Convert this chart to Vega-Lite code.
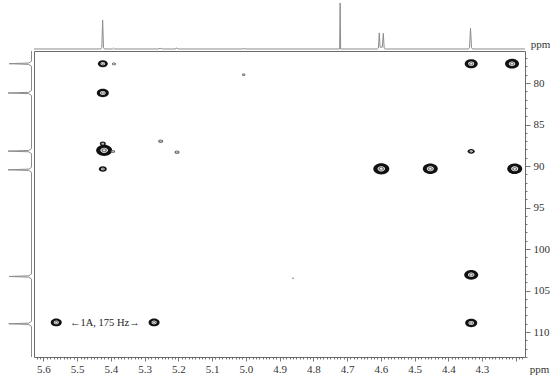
{
  "$schema": "https://vega.github.io/schema/vega-lite/v6.json",
  "width": 491,
  "height": 306,
  "autosize": {"type": "pad"},
  "padding": {"left": 5, "top": 0, "right": 5, "bottom": 5},
  "config": {
    "font": "Liberation Serif",
    "view": {"stroke": "#6a6a6a", "strokeWidth": 1}
  },
  "datasets": {
    "peaks": [
      {"h": 5.424, "c": 77.67, "intensity": 10},
      {"h": 5.391, "c": 77.70, "intensity": 4},
      {"h": 5.424, "c": 81.2, "intensity": 12},
      {"h": 5.424, "c": 87.3, "intensity": 6},
      {"h": 5.420, "c": 88.11, "intensity": 16},
      {"h": 5.394, "c": 88.25, "intensity": 4.5},
      {"h": 5.424, "c": 90.36, "intensity": 8},
      {"h": 5.2525, "c": 87.02, "intensity": 5},
      {"h": 5.204, "c": 88.35, "intensity": 5},
      {"h": 5.0065, "c": 79.0, "intensity": 3.5},
      {"h": 4.860, "c": 103.5, "intensity": 2},
      {"h": 4.5985, "c": 90.33, "intensity": 16},
      {"h": 4.4532, "c": 90.33, "intensity": 15},
      {"h": 4.203, "c": 90.33, "intensity": 15},
      {"h": 4.332, "c": 88.23, "intensity": 7},
      {"h": 4.332, "c": 77.67, "intensity": 13},
      {"h": 4.211, "c": 77.67, "intensity": 14},
      {"h": 4.332, "c": 103.1, "intensity": 14},
      {"h": 4.332, "c": 108.9, "intensity": 12},
      {"h": 5.562, "c": 108.83, "intensity": 11},
      {"h": 5.272, "c": 108.83, "intensity": 11}
    ],
    "h1": [
      {"h": 5.628, "i": 0},
      {"h": 5.43, "i": 0},
      {"h": 5.427, "i": 3},
      {"h": 5.4245, "i": 63},
      {"h": 5.422, "i": 3},
      {"h": 5.419, "i": 0},
      {"h": 5.395, "i": 0},
      {"h": 5.392, "i": 2},
      {"h": 5.389, "i": 0},
      {"h": 5.26, "i": 0},
      {"h": 5.254, "i": 1.5},
      {"h": 5.248, "i": 0},
      {"h": 5.21, "i": 0},
      {"h": 5.205, "i": 2},
      {"h": 5.20, "i": 0},
      {"h": 5.01, "i": 0},
      {"h": 5.005, "i": 1},
      {"h": 5.0, "i": 0},
      {"h": 4.722, "i": 0},
      {"h": 4.7205, "i": 100},
      {"h": 4.719, "i": 0},
      {"h": 4.61, "i": 0},
      {"h": 4.607, "i": 2},
      {"h": 4.6045, "i": 35},
      {"h": 4.602, "i": 4},
      {"h": 4.5955, "i": 4},
      {"h": 4.5925, "i": 34},
      {"h": 4.590, "i": 2},
      {"h": 4.587, "i": 0},
      {"h": 4.34, "i": 0},
      {"h": 4.337, "i": 3},
      {"h": 4.334, "i": 45},
      {"h": 4.331, "i": 3},
      {"h": 4.328, "i": 0},
      {"h": 4.1725, "i": 0}
    ],
    "c13": [
      {"c": 76.14, "i": 0},
      {"c": 77.37, "i": 0},
      {"c": 77.59, "i": 12},
      {"c": 77.67, "i": 95},
      {"c": 77.75, "i": 12},
      {"c": 77.97, "i": 0},
      {"c": 80.9, "i": 0},
      {"c": 81.12, "i": 12},
      {"c": 81.2, "i": 100},
      {"c": 81.28, "i": 12},
      {"c": 81.5, "i": 0},
      {"c": 87.9, "i": 0},
      {"c": 88.12, "i": 12},
      {"c": 88.2, "i": 100},
      {"c": 88.28, "i": 12},
      {"c": 88.5, "i": 0},
      {"c": 90.15, "i": 0},
      {"c": 90.37, "i": 12},
      {"c": 90.45, "i": 100},
      {"c": 90.53, "i": 12},
      {"c": 90.75, "i": 0},
      {"c": 103.0, "i": 0},
      {"c": 103.22, "i": 12},
      {"c": 103.3, "i": 95},
      {"c": 103.38, "i": 12},
      {"c": 103.6, "i": 0},
      {"c": 108.7, "i": 0},
      {"c": 108.92, "i": 12},
      {"c": 109.0, "i": 97},
      {"c": 109.08, "i": 12},
      {"c": 109.3, "i": 0},
      {"c": 113.0, "i": 0}
    ],
    "notes": [
      {"h": 5.418, "c": 108.85, "label": "←1A, 175 Hz→"}
    ]
  },
  "resolve": {
    "scale": {"x": "independent", "y": "independent", "size": "independent", "color": "independent"},
    "axis": {"x": "independent", "y": "independent"}
  },
  "layer": [
    {
      "data": {"name": "h1"},
      "mark": {"type": "line", "color": "#8c8c8c", "strokeWidth": 1},
      "encoding": {
        "x": {"field": "h", "type": "quantitative", "axis": null,
              "scale": {"domain": [4.1725, 5.628], "reverse": true, "nice": false, "zero": false}},
        "y": {"field": "i", "type": "quantitative", "axis": null,
              "scale": {"domain": [-669.5, -4.35], "nice": false, "zero": false}}
      }
    },
    {
      "data": {"name": "c13"},
      "mark": {"type": "line", "color": "#8c8c8c", "strokeWidth": 1},
      "encoding": {
        "x": {"field": "i", "type": "quantitative", "axis": null,
              "scale": {"domain": [-2100, -10.64], "reverse": true, "nice": false, "zero": false}},
        "y": {"field": "c", "type": "quantitative", "axis": null,
              "scale": {"domain": [76.14, 113], "reverse": true, "nice": false, "zero": false}},
        "order": {"field": "c", "type": "quantitative"}
      }
    },
    {
      "data": {"name": "peaks"},
      "mark": {"type": "point", "filled": true, "opacity": 1, "strokeWidth": 0,
               "shape": "M-1,0C-1,-0.3866,-0.5523,-0.7,0,-0.7C0.5523,-0.7,1,-0.3866,1,0C1,0.3866,0.5523,0.7,0,0.7C-0.5523,0.7,-1,0.3866,-1,0Z"},
      "encoding": {
        "x": {"field": "h", "type": "quantitative",
              "scale": {"domain": [4.1725, 5.628], "reverse": true, "nice": false, "zero": false},
              "axis": {
                "orient": "bottom", "domain": false, "grid": false,
                "tickCount": 145, "tickColor": "#555", "tickWidth": 0.8,
                "tickSize": {"condition": {"test": "abs(datum.value*10 - round(datum.value*10)) < 0.0001", "value": 4}, "value": 2},
                "labelExpr": "(abs(datum.value*10 - round(datum.value*10)) < 0.0001 && datum.value > 4.25) ? format(datum.value, '.1f') : ''",
                "labelOverlap": false, "labelFlush": false,
                "labelFont": "Liberation Serif", "labelFontSize": 11, "labelColor": "#333", "labelPadding": 2,
                "title": "ppm", "titleX": 505, "titleY": 12, "titleAlign": "center", "titleBaseline": "middle",
                "titleFont": "Liberation Serif", "titleFontSize": 11, "titleFontWeight": "normal", "titleColor": "#333"
              }},
        "y": {"field": "c", "type": "quantitative",
              "scale": {"domain": [76.14, 113], "reverse": true, "nice": false, "zero": false},
              "axis": {
                "orient": "right", "domain": false, "grid": false,
                "tickCount": 37, "tickColor": "#555", "tickWidth": 0.8,
                "tickSize": {"condition": {"test": "abs(datum.value/5 - round(datum.value/5)) < 0.0001", "value": 5}, "value": 2},
                "labelExpr": "abs(datum.value/5 - round(datum.value/5)) < 0.0001 ? format(datum.value, 'd') : ''",
                "labelOverlap": false, "labelFlush": false,
                "labelFont": "Liberation Serif", "labelFontSize": 11, "labelColor": "#333", "labelPadding": 3,
                "title": "ppm", "titleAngle": 0, "titleX": 15, "titleY": -7, "titleAlign": "center", "titleBaseline": "middle",
                "titleFont": "Liberation Serif", "titleFontSize": 11, "titleFontWeight": "normal", "titleColor": "#333"
              }},
        "size": {"field": "intensity", "type": "quantitative", "legend": null,
                 "scale": {"type": "pow", "exponent": 2, "domain": [0, 16], "range": [0, 256]}},
        "color": {"condition": {"test": "datum.intensity < 6", "value": "#666"}, "value": "#111"}
      }
    },
    {
      "data": {"name": "peaks"},
      "mark": {"type": "point", "filled": true, "opacity": 1, "strokeWidth": 0, "color": "#ffffff",
               "shape": "M-1,0C-1,-0.3866,-0.5523,-0.7,0,-0.7C0.5523,-0.7,1,-0.3866,1,0C1,0.3866,0.5523,0.7,0,0.7C-0.5523,0.7,-1,0.3866,-1,0Z"},
      "encoding": {
        "x": {"field": "h", "type": "quantitative", "axis": null,
              "scale": {"domain": [4.1725, 5.628], "reverse": true, "nice": false, "zero": false}},
        "y": {"field": "c", "type": "quantitative", "axis": null,
              "scale": {"domain": [76.14, 113], "reverse": true, "nice": false, "zero": false}},
        "size": {"field": "intensity", "type": "quantitative", "legend": null,
                 "scale": {"type": "pow", "exponent": 2, "domain": [0, 16], "range": [0, 55]}}
      }
    },
    {
      "data": {"name": "peaks"},
      "mark": {"type": "point", "filled": true, "opacity": 1, "strokeWidth": 0, "color": "#7a7a7a",
               "shape": "M-1,0C-1,-0.3866,-0.5523,-0.7,0,-0.7C0.5523,-0.7,1,-0.3866,1,0C1,0.3866,0.5523,0.7,0,0.7C-0.5523,0.7,-1,0.3866,-1,0Z"},
      "encoding": {
        "x": {"field": "h", "type": "quantitative", "axis": null,
              "scale": {"domain": [4.1725, 5.628], "reverse": true, "nice": false, "zero": false}},
        "y": {"field": "c", "type": "quantitative", "axis": null,
              "scale": {"domain": [76.14, 113], "reverse": true, "nice": false, "zero": false}},
        "size": {"field": "intensity", "type": "quantitative", "legend": null,
                 "scale": {"type": "pow", "exponent": 2, "domain": [0, 16], "range": [0, 33]}}
      }
    },
    {
      "data": {"name": "peaks"},
      "mark": {"type": "point", "filled": true, "opacity": 1, "strokeWidth": 0, "color": "#eeeeee",
               "shape": "M-1,0C-1,-0.3866,-0.5523,-0.7,0,-0.7C0.5523,-0.7,1,-0.3866,1,0C1,0.3866,0.5523,0.7,0,0.7C-0.5523,0.7,-1,0.3866,-1,0Z"},
      "encoding": {
        "x": {"field": "h", "type": "quantitative", "axis": null,
              "scale": {"domain": [4.1725, 5.628], "reverse": true, "nice": false, "zero": false}},
        "y": {"field": "c", "type": "quantitative", "axis": null,
              "scale": {"domain": [76.14, 113], "reverse": true, "nice": false, "zero": false}},
        "size": {"field": "intensity", "type": "quantitative", "legend": null,
                 "scale": {"type": "pow", "exponent": 2, "domain": [0, 16], "range": [0, 7]}}
      }
    },
    {
      "data": {"name": "notes"},
      "mark": {"type": "text", "font": "Liberation Serif", "fontSize": 10.5, "color": "#222", "align": "center", "baseline": "middle"},
      "encoding": {
        "x": {"field": "h", "type": "quantitative", "axis": null,
              "scale": {"domain": [4.1725, 5.628], "reverse": true, "nice": false, "zero": false}},
        "y": {"field": "c", "type": "quantitative", "axis": null,
              "scale": {"domain": [76.14, 113], "reverse": true, "nice": false, "zero": false}},
        "text": {"field": "label"}
      }
    }
  ]
}
